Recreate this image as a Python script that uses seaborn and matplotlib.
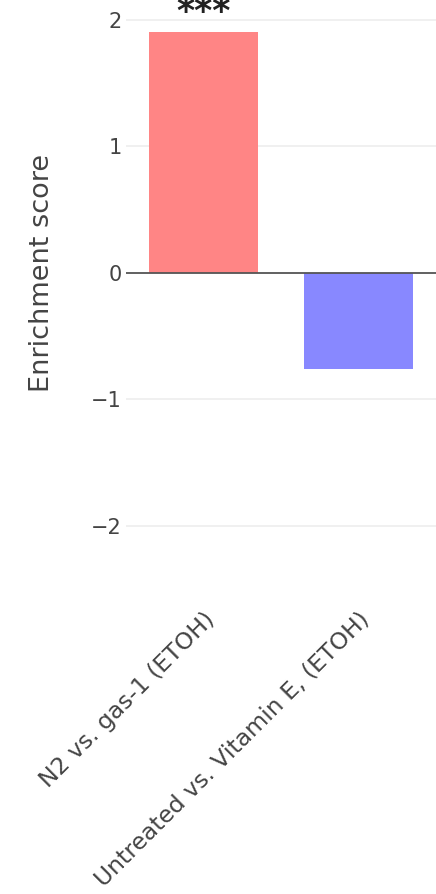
import matplotlib
matplotlib.use("Agg")
import matplotlib.pyplot as plt
import seaborn as sns
import pandas as pd

# Enrichment scores per comparison
comparisons = ["N2 vs. gas-1 (ETOH)", "Untreated vs. Vitamin E, (ETOH)"]
scores = [1.90, -0.76]
significance = ["***", ""]
bar_colors = ["#FF8585", "#8888FF"]
y_ticks = [-2, -1, 0, 1, 2]

sns.set_theme(style="white")
plt.rcParams["font.family"] = ["DejaVu Sans"]

df = pd.DataFrame({"comparison": comparisons, "score": scores})

fig = plt.figure(figsize=(4.36, 8.94), dpi=100)
ax = fig.add_axes([126 / 436, 1 - 601.5 / 894, 310 / 436, 594.6 / 894])

sns.barplot(data=df, x="comparison", y="score", hue="comparison",
            palette=bar_colors, width=0.7, legend=False, ax=ax,
            saturation=1, linewidth=0)

ax.set_xlim(-0.5, 1.5)
ax.set_ylim(-2.6, 2.1)
ax.set_yticks(y_ticks)
ax.set_yticklabels(["\u22122", "\u22121", "0", "1", "2"])
ax.yaxis.grid(True, color="#eeeeee", linewidth=1.2)
ax.set_axisbelow(True)
ax.axhline(0, color="#555555", linewidth=1.3, zorder=3)

for s in ax.spines.values():
    s.set_visible(False)

ax.tick_params(axis="y", length=0, pad=3, labelsize=15, labelcolor="#444444")
ax.tick_params(axis="x", length=0, pad=5, labelsize=16.9, labelcolor="#444444")
plt.setp(ax.get_xticklabels(), rotation=45, ha="right", va="top",
         rotation_mode="anchor")

ax.set_xlabel("")
ax.set_ylabel("Enrichment score", fontsize=19.5, color="#444444")
# centre the axis title on the zero line
ax.yaxis.set_label_coords(-0.228, (0 + 2.6) / 4.7)

for i, (val, mark) in enumerate(zip(scores, significance)):
    if mark:
        ax.annotate(mark, xy=(i, val), xytext=(0, 7.5), textcoords="offset points",
                    ha="center", va="baseline", fontsize=25, fontweight="bold",
                    color="#222222", annotation_clip=False)

fig.savefig("out.png", dpi=100)
